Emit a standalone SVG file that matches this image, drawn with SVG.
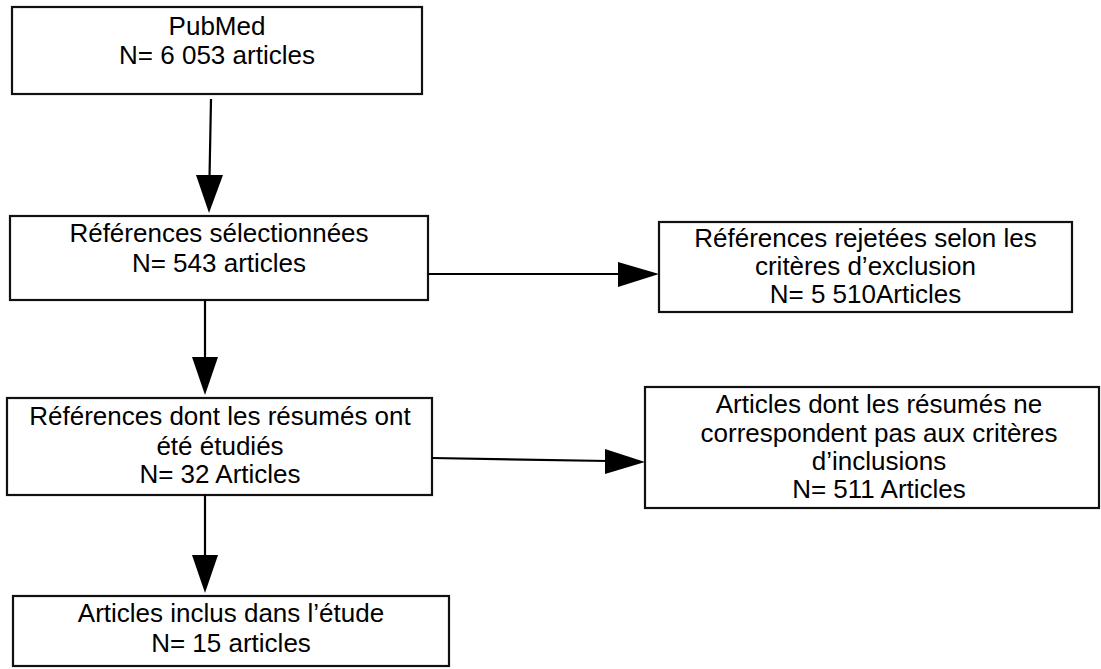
<svg xmlns="http://www.w3.org/2000/svg" width="1101" height="669" viewBox="0 0 1101 669">
<style>
.box{fill:#fff;stroke:#111;stroke-width:2.2}
.t{font-family:"Liberation Sans",Arial,sans-serif;font-size:26px;fill:#000;text-anchor:middle}
.ln{stroke:#000;stroke-width:2.2;fill:none}
.hd{fill:#000}
</style>
<rect width="1101" height="669" fill="#fff"/>
<g id="n1">
<rect class="box" x="12" y="7" width="410" height="87"/>
<text class="t" x="217" y="35">PubMed</text>
<text class="t" x="217" y="64">N= 6 053 articles</text>
</g>
<g id="n2">
<rect class="box" x="10" y="216" width="418" height="84"/>
<text class="t" x="219" y="242">Références sélectionnées</text>
<text class="t" x="219" y="272">N= 543 articles</text>
</g>
<g id="n3">
<rect class="box" x="659" y="222" width="413" height="90"/>
<text class="t" x="865.5" y="247">Références rejetées selon les</text>
<text class="t" x="865.5" y="275">critères d’exclusion</text>
<text class="t" x="865.5" y="303">N= 5 510Articles</text>
</g>
<g id="n4">
<rect class="box" x="7" y="398" width="425" height="97"/>
<text class="t" x="220" y="425">Références dont les résumés ont</text>
<text class="t" x="220" y="455">été étudiés</text>
<text class="t" x="220" y="483">N= 32 Articles</text>
</g>
<g id="n5">
<rect class="box" x="645" y="387" width="454" height="121"/>
<text class="t" x="879" y="413">Articles dont les résumés ne</text>
<text class="t" x="879" y="442">correspondent pas aux critères</text>
<text class="t" x="879" y="470">d’inclusions</text>
<text class="t" x="879" y="498">N= 511 Articles</text>
</g>
<g id="n6">
<rect class="box" x="13" y="596" width="436" height="70"/>
<text class="t" x="231" y="622">Articles inclus dans l’étude</text>
<text class="t" x="231" y="652">N= 15 articles</text>
</g>
<g id="connectors">
<line class="ln" x1="211" y1="99" x2="209.5" y2="178"/>
<polygon class="hd" points="196,175 223,175 209,213"/>
<line class="ln" x1="428" y1="274" x2="621" y2="274"/>
<polygon class="hd" points="618,262 618,287 659,274"/>
<line class="ln" x1="205" y1="300" x2="205" y2="360"/>
<polygon class="hd" points="192,357 218,357 205,395"/>
<line class="ln" x1="432" y1="458" x2="608" y2="461"/>
<polygon class="hd" points="605,449 605,474 645,462"/>
<line class="ln" x1="205" y1="495" x2="205" y2="558"/>
<polygon class="hd" points="192,555 218,555 205,593"/>
</g>
</svg>
